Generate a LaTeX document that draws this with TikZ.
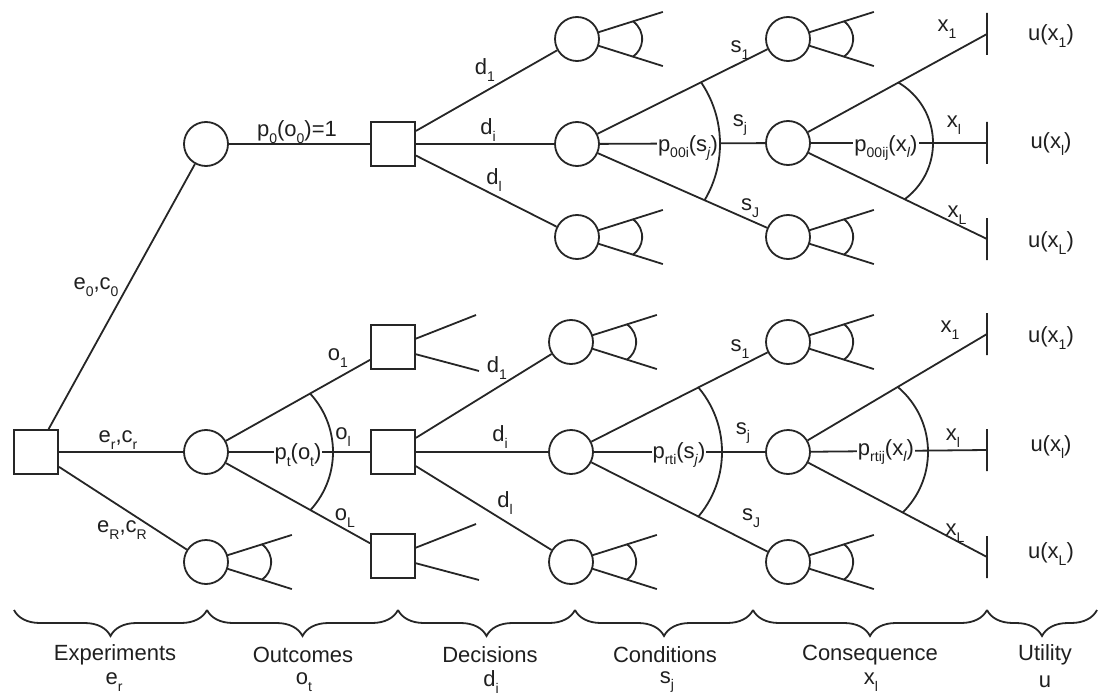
\documentclass[tikz,border=0pt]{standalone}
\usepackage{fontspec}
\setmainfont{Liberation Sans}
\usetikzlibrary{decorations.pathreplacing,calc}
\newcommand{\sbx}[1]{\raisebox{-0.3em}{\fontsize{14}{14}\selectfont #1}}
\newcommand{\smallfan}[1]{%
  \draw[ln] ($(#1.center)+(17.5:22pt)$) -- ($(#1.center)+(17.5:90pt)$);
  \draw[ln] ($(#1.center)+(-17.5:22pt)$) -- ($(#1.center)+(-17.5:90pt)$);
  \draw[ln] ($(#1.center)+(56pt,17.6pt)$) arc[start angle=55,end angle=-55,radius=21.5pt];}
\newcommand{\sqstub}[1]{%
  \draw[ln] ($(#1.center)+(22pt,8pt)$) -- ($(#1.center)+(83pt,32pt)$);
  \draw[ln] ($(#1.center)+(22pt,-7pt)$) -- ($(#1.center)+(86pt,-24pt)$);}
\newcommand{\bigfan}[5]{%
  \begin{scope}
    \clip (#1.center) -- ($(#1.center)!4!(#2.center)$) -- ($(#1.center)!4!(#3.center)$) -- cycle;
    \clip ($(#1.center)+(#4pt,-300pt)$) rectangle ($(#1.center)+(400pt,300pt)$);
    \draw[ln] ($(#1.center)+(#4pt,0pt)$) circle[radius=#5pt];
  \end{scope}}
\begin{document}
\begin{tikzpicture}[x=1pt,y=-1pt,
  every node/.style={font=\fontsize{22}{24}\selectfont, text=black!88},
  ln/.style={line width=1.8pt, draw=black!85},
  chance/.style={circle, draw=black!85, line width=1.8pt, minimum size=44pt, inner sep=0pt},
  dec/.style={rectangle, draw=black!85, line width=1.8pt, minimum size=44pt, inner sep=0pt},
  bar/.style={rectangle, draw=black!85, line width=1.8pt, minimum width=0pt, minimum height=42pt, inner sep=0pt, outer sep=0pt},
  lbl/.style={inner sep=1pt},
  plbl/.style={fill=white, inner sep=1pt},
  cat/.style={inner sep=0pt},
  brc/.style={line width=1.8pt, draw=black!85, decorate, decoration={brace, mirror, amplitude=26pt}}
]
\useasboundingbox (0,0) rectangle (1106,698);

% ---- main nodes
\node[dec] (root) at (36,452) {};
\node[chance] (c0) at (206,144) {};
\node[chance] (cr) at (206,452) {};
\node[chance] (cR) at (206,562) {};
\node[dec] (D0) at (393,144) {};
\node[dec] (Dt1) at (393,347) {};
\node[dec] (Dtl) at (393,452) {};
\node[dec] (DtL) at (393,556) {};
% top group
\node[chance] (A1) at (577,39) {};
\node[chance] (Ai) at (577,144) {};
\node[chance] (Al) at (577,237) {};
\node[chance] (B1) at (788,39) {};
\node[chance] (Bj) at (788,143) {};
\node[chance] (BJ) at (788,237) {};
\node[bar] (T1) at (987,34) {};
\node[bar] (Tl) at (987,143) {};
\node[bar] (TL) at (987,239) {};
% lower group
\node[chance] (E1) at (571,342) {};
\node[chance] (Ei) at (571,452) {};
\node[chance] (El) at (571,562) {};
\node[chance] (F1) at (788,342) {};
\node[chance] (Fj) at (788,452) {};
\node[chance] (FJ) at (788,562) {};
\node[bar] (U1) at (987,334) {};
\node[bar] (Ul) at (987,450) {};
\node[bar] (UL) at (987,557) {};

% ---- connectors
\draw[ln] (root) -- (c0);
\draw[ln] (root) -- (cr);
\draw[ln] (root) -- (cR);
\draw[ln] (c0) -- (D0);
\draw[ln] (cr) -- (Dt1);
\draw[ln] (cr) -- (Dtl);
\draw[ln] (cr) -- (DtL);
\draw[ln] (D0) -- (A1);
\draw[ln] (D0) -- (Ai);
\draw[ln] (D0) -- (Al);
\draw[ln] (Ai) -- (B1);
\draw[ln] (Ai) -- (Bj);
\draw[ln] (Ai) -- (BJ);
\draw[ln] (Bj) -- (T1);
\draw[ln] (Bj) -- (Tl);
\draw[ln] (Bj) -- (TL);
\draw[ln] (Dtl) -- (E1);
\draw[ln] (Dtl) -- (Ei);
\draw[ln] (Dtl) -- (El);
\draw[ln] (Ei) -- (F1);
\draw[ln] (Ei) -- (Fj);
\draw[ln] (Ei) -- (FJ);
\draw[ln] (Fj) -- (U1);
\draw[ln] (Fj) -- (Ul);
\draw[ln] (Fj) -- (UL);

% ---- stubs of unexpanded branches
\smallfan{cR}
\smallfan{A1}
\smallfan{Al}
\smallfan{B1}
\smallfan{BJ}
\smallfan{E1}
\smallfan{El}
\smallfan{F1}
\smallfan{FJ}
\sqstub{Dt1}
\sqstub{DtL}

% ---- labels
\node[lbl] (le0) at (96,287) {e\sbx{0},c\sbx{0}};
\node[lbl] (ler) at (118,440) {e\sbx{r},c\sbx{r}};
\node[lbl] (leR) at (122,530) {e\sbx{R},c\sbx{R}};
\node[lbl] (lp0) at (297,132) {p\sbx{0}(o\sbx{0})=1};
\node[lbl] (lo1) at (338,358) {o\sbx{1}};
\node[lbl] (lol) at (343,437) {o\sbx{l}};
\node[lbl] (loL) at (345,518) {o\sbx{L}};
\node[plbl] (lpt) at (298,455) {p\sbx{t}(o\sbx{t})};

\node[lbl] (ld1) at (485,70) {d\sbx{1}};
\node[lbl] (ldi) at (488,130) {d\sbx{i}};
\node[lbl] (ldl) at (494,180) {d\sbx{l}};
\node[lbl] (ls1) at (740,50) {s\sbx{1}};
\node[lbl] (lsj) at (740,125) {s\sbx{j}};
\node[lbl] (lsJ) at (750,208) {s\sbx{J}};
\node[plbl] (lps) at (688,148) {p\sbx{00i}(s\sbx{\textit{j}})};
\node[lbl] (lx1) at (947,29) {x\sbx{1}};
\node[lbl] (lxl) at (954,125) {x\sbx{l}};
\node[lbl] (lxL) at (957,215) {x\sbx{L}};
\node[plbl] (lpx) at (886,148) {p\sbx{00ij}(x\sbx{\textit{l}})};

\node[lbl] (md1) at (497,368) {d\sbx{1}};
\node[lbl] (mdi) at (500,437) {d\sbx{i}};
\node[lbl] (mdl) at (505,503) {d\sbx{l}};
\node[lbl] (ms1) at (740,349) {s\sbx{1}};
\node[lbl] (msj) at (743,433) {s\sbx{j}};
\node[lbl] (msJ) at (751,518) {s\sbx{J}};
\node[plbl] (mps) at (679,455) {p\sbx{rti}(s\sbx{\textit{j}})};
\node[lbl] (mx1) at (950,330) {x\sbx{1}};
\node[lbl] (mxl) at (953,438) {x\sbx{l}};
\node[lbl] (mxL) at (955,533) {x\sbx{L}};
\node[plbl] (mpx) at (886,452) {p\sbx{rtij}(x\sbx{\textit{l}})};

\node[lbl] (u1) at (1051,36) {u(x\sbx{1})};
\node[lbl] (ul) at (1051,144) {u(x\sbx{l})};
\node[lbl] (uL) at (1051,243) {u(x\sbx{L})};
\node[lbl] (v1) at (1051,338) {u(x\sbx{1})};
\node[lbl] (vl) at (1051,447) {u(x\sbx{l})};
\node[lbl] (vL) at (1051,554) {u(x\sbx{L})};

% ---- probability arcs
\bigfan{cr}{Dt1}{DtL}{41}{86}
\bigfan{Ai}{B1}{BJ}{33}{110}
\bigfan{Bj}{T1}{TL}{75}{70}
\bigfan{Ei}{F1}{FJ}{51}{100}
\bigfan{Fj}{U1}{UL}{55}{85}

% ---- stage braces
\coordinate (b0) at (14,610);
\coordinate (b1) at (207,610);
\coordinate (b2) at (398,610);
\coordinate (b3) at (575,610);
\coordinate (b4) at (753,610);
\coordinate (b5) at (987,610);
\coordinate (b6) at (1097,610);
\draw[brc] (b0) -- (b1);
\draw[brc] (b1) -- (b2);
\draw[brc] (b2) -- (b3);
\draw[brc] (b3) -- (b4);
\draw[brc] (b4) -- (b5);
\draw[brc] (b5) -- (b6);

\node[cat] (n1) at (115,655) {Experiments};
\node[cat] (n1s) at (114,682) {e\sbx{r}};
\node[cat] (n2) at (303,655) {Outcomes};
\node[cat] (n2s) at (304,682) {o\sbx{t}};
\node[cat] (n3) at (490,655) {Decisions};
\node[cat] (n3s) at (491,682) {d\sbx{i}};
\node[cat] (n4) at (665,655) {Conditions};
\node[cat] (n4s) at (667,682) {s\sbx{j}};
\node[cat] (n5) at (870,655) {Consequence};
\node[cat] (n5s) at (871,682) {x\sbx{l}};
\node[cat] (n6) at (1045,655) {Utility};
\node[cat] (n6s) at (1045,682) {u};
\end{tikzpicture}
\end{document}
